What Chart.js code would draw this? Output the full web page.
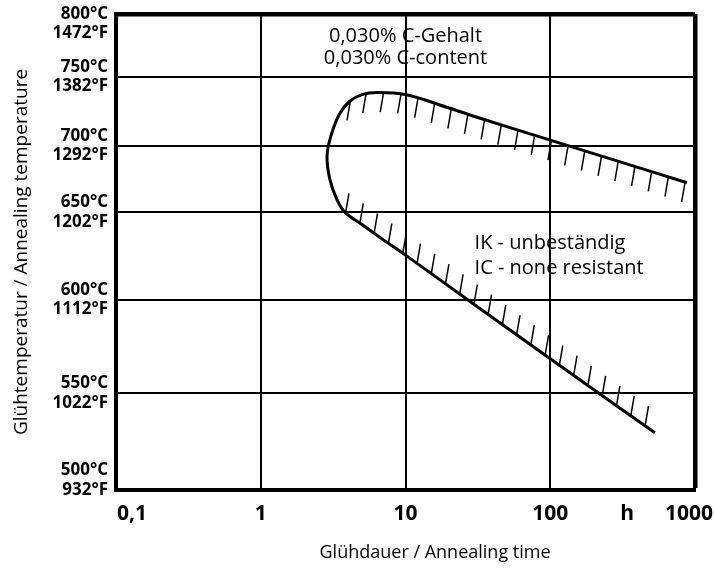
<!DOCTYPE html>
<html lang="de">
  <head>
    <meta charset="UTF-8" />
    <title>Glühtemperatur / Glühdauer</title>
    <script src="https://cdn.jsdelivr.net/npm/chart.js@4"></script>
    <style>
      body {
        margin: 0;
        background: #fff;
      }
      .chart-container {
        width: 714px;
        height: 569px;
      }
    </style>
  </head>
  <body>
    <div class="chart-container">
      <canvas id="chart"></canvas>
    </div>

    <script>
      // temperature grid (°C with °F equivalents)
      const tempTicksC = [500, 550, 600, 650, 700, 750, 800];
      const tempTicksF = [932, 1022, 1112, 1202, 1292, 1382, 1472];
      // hand drawn spacing of the temperature grid (0 = 500°C, 1 = 800°C)
      const tempAxisStops = [0, 0.2029, 0.4, 0.5832, 0.7231, 0.8685, 1];

      // time axis (hours, log)
      const timeTicks = [0.1, 1, 10, 100, 1000];
      const timeLabelValues = [0.1, 1, 10, 100, 340, 1000];
      const timeLabels = ["0,1", "1", "10", "100", "h", "1000"];

      // boundary curve, traced from upper right end round the nose to lower right end
      const curveHours = [880, 300, 100, 30, 20, 10, 6.4, 5.0, 4.1, 3.5, 3.05, 2.87, 3.0, 3.35, 3.82, 5, 7, 10, 30, 100, 300, 529];
      const curveTemps = [672.3, 688.1, 704.1, 721.2, 727.3, 737, 738.5, 737, 732, 723, 707, 692, 675, 660, 650, 643.1, 634.4, 625.5, 597.3, 568.5, 542.6, 529.6];

      function tempToAxis(t) {
        for (let i = 0; i < tempTicksC.length - 1; i++) {
          const a = tempTicksC[i], b = tempTicksC[i + 1];
          if (t <= b || i === tempTicksC.length - 2) {
            const f = (t - a) / (b - a);
            return tempAxisStops[i] + f * (tempAxisStops[i + 1] - tempAxisStops[i]);
          }
        }
      }

      const FONT = "'Open Sans', 'DejaVu Sans', sans-serif";

      // short slanted hatch strokes on the inner side of the curve, plus the texts
      const hatchPlugin = {
        id: "hatch",
        afterDatasetsDraw(chart) {
          const pts = chart.getDatasetMeta(0).data;
          const poly = [];
          for (let i = 0; i < pts.length - 1; i++) {
            const p0 = pts[i], p1 = pts[i + 1];
            for (let k = 0; k < 20; k++) {
              const t = k / 20, u = 1 - t;
              poly.push({
                x: u*u*u*p0.x + 3*u*u*t*p0.cp2x + 3*u*t*t*p1.cp1x + t*t*t*p1.x,
                y: u*u*u*p0.y + 3*u*u*t*p0.cp2y + 3*u*t*t*p1.cp1y + t*t*t*p1.y
              });
            }
          }
          poly.push({ x: pts[pts.length - 1].x, y: pts[pts.length - 1].y });

          const ctx = chart.ctx;
          const hx = -0.17, hy = 0.985, len = 20, step = 17.5;
          let next = 2, s = 0;
          ctx.save();
          ctx.strokeStyle = "#000";
          ctx.lineWidth = 1.5;
          ctx.beginPath();
          for (let i = 0; i < poly.length - 1; i++) {
            const a = poly[i], b = poly[i + 1];
            const dx = b.x - a.x, dy = b.y - a.y;
            const d = Math.hypot(dx, dy);
            if (d === 0) continue;
            while (next <= s + d) {
              const f = (next - s) / d;
              const px = a.x + dx * f, py = a.y + dy * f;
              // normal pointing to the inside of the curve
              const nx = dy / d, ny = -dx / d;
              const dot = hx * nx + hy * ny;
              if (Math.abs(dot) > 0.6) {
                const sg = Math.sign(dot);
                ctx.moveTo(px, py);
                ctx.lineTo(px + sg * hx * len, py + sg * hy * len);
              }
              next += step;
            }
            s += d;
          }
          ctx.stroke();
          ctx.restore();
        },
        afterDraw(chart) {
          const ctx = chart.ctx;
          const xs = chart.scales.x, ys = chart.scales.y;
          const area = chart.chartArea;
          ctx.save();
          ctx.fillStyle = "#000";
          ctx.textBaseline = "middle";

          // time axis labels
          ctx.font = "bold 21px " + FONT;
          timeLabelValues.forEach((v, i) => {
            let x = xs.getPixelForValue(v);
            ctx.textAlign = "center";
            if (i === 0) { ctx.textAlign = "left"; x += 1; }
            if (i === timeLabelValues.length - 1) x -= 6;
            ctx.fillText(timeLabels[i], x, area.bottom + 24);
          });

          // time axis title
          ctx.font = "18px " + FONT;
          ctx.textAlign = "center";
          ctx.fillText("Glühdauer / Annealing time", xs.getPixelForValue(16), area.bottom + 63);

          // notes
          ctx.font = "20px " + FONT;
          let x = xs.getPixelForValue(10), y = ys.getPixelForValue(tempToAxis(782));
          ctx.fillText("0,030% C-Gehalt", x, y);
          ctx.fillText("0,030% C-content", x, y + 22);

          ctx.textAlign = "left";
          x = xs.getPixelForValue(30);
          y = ys.getPixelForValue(tempToAxis(632.5));
          ctx.fillText("IK - unbeständig", x, y);
          ctx.fillText("IC - none resistant", x, y + 25);
          ctx.restore();
        }
      };

      const edgeWidth = 4.5;

      new Chart(document.getElementById("chart"), {
        type: "scatter",
        data: {
          datasets: [
            {
              data: curveHours.map((h, i) => ({ x: h, y: tempToAxis(curveTemps[i]) })),
              showLine: true,
              borderColor: "#000",
              borderWidth: 3,
              pointRadius: 0,
              tension: 0.35,
              clip: false,
            },
          ],
        },
        options: {
          responsive: true,
          maintainAspectRatio: false,
          animation: false,
          layout: { padding: { top: 14, right: 19, bottom: 0, left: 0 } },
          plugins: {
            legend: { display: false },
            tooltip: { enabled: false },
          },
          scales: {
            x: {
              type: "logarithmic",
              min: 0.1,
              max: 1000,
              afterBuildTicks: (scale) => {
                scale.ticks = timeTicks.map((v) => ({ value: v }));
              },
              afterFit: (scale) => {
                scale.height = 79;
              },
              ticks: { display: false },
              grid: {
                color: "#000",
                lineWidth: (c) => (c.tick && c.tick.value === 1000 ? edgeWidth : 2),
                drawTicks: false,
              },
              border: { color: "#000", width: 4 },
            },
            y: {
              type: "linear",
              min: 0,
              max: 1,
              afterBuildTicks: (scale) => {
                scale.ticks = tempTicksC.map((t) => ({ value: tempToAxis(t) }));
              },
              afterFit: (scale) => {
                scale.width = 116;
                scale.paddingTop = 0;
                scale.paddingBottom = 0;
              },
              ticks: {
                color: "#000",
                padding: 8,
                font: { family: FONT, size: 17, weight: "bold", lineHeight: 1.15 },
                callback: (value, index) => {
                  const lines = [tempTicksC[index] + "°C", tempTicksF[index] + "°F"];
                  if (index === 0) lines.push("");
                  if (index === tempTicksC.length - 1) lines.unshift("");
                  return lines;
                },
              },
              grid: {
                color: "#000",
                lineWidth: (c) => (c.tick && c.tick.value === 1 ? edgeWidth : 2),
                drawTicks: false,
              },
              border: { color: "#000", width: 4 },
              title: {
                display: true,
                text: "Glühtemperatur / Annealing temperature",
                color: "#000",
                font: { family: FONT, size: 19 },
                padding: { top: 10, bottom: 0 },
              },
            },
          },
        },
        plugins: [hatchPlugin],
      });
    </script>
  </body>
</html>
